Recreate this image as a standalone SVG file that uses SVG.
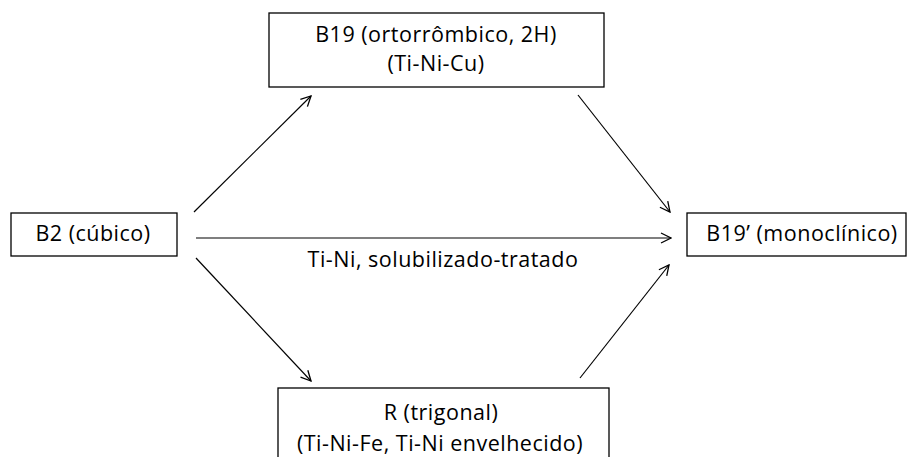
<svg xmlns="http://www.w3.org/2000/svg" width="910" height="457" viewBox="0 0 910 457">
<style>
.box{fill:#fff;stroke:#000;stroke-width:1.3}
.t{font-family:"Open Sans","Liberation Sans",Arial,sans-serif;font-size:21.5px;letter-spacing:0.5px;fill:#000;text-anchor:middle}
.c{stroke:#000;stroke-width:1.2;fill:none;marker-end:url(#ah)}
</style>
<defs>
<marker id="ah" viewBox="0 0 12 12" refX="11" refY="6" markerWidth="12" markerHeight="12" markerUnits="userSpaceOnUse" orient="auto">
<path d="M1,1 L11,6 L1,11" fill="none" stroke="#000" stroke-width="1.3"/>
</marker>
</defs>
<rect width="910" height="457" fill="#fff"/>
<g id="connectors">
<line class="c" x1="194" y1="212" x2="311" y2="96"/>
<line class="c" x1="578" y1="95" x2="670" y2="212"/>
<line class="c" x1="196" y1="238" x2="671" y2="238"/>
<line class="c" x1="196" y1="258" x2="311" y2="381"/>
<line class="c" x1="580" y1="378" x2="669" y2="265"/>
<text class="t" x="443" y="267">Ti-Ni, solubilizado-tratado</text>
</g>
<g id="b19">
<rect class="box" x="269" y="13" width="335" height="74"/>
<text class="t" x="436" y="42">B19 (ortorrômbico, 2H)</text>
<text class="t" x="436" y="71">(Ti-Ni-Cu)</text>
</g>
<g id="b2">
<rect class="box" x="11" y="213" width="166" height="43"/>
<text class="t" x="93" y="241">B2 (cúbico)</text>
</g>
<g id="b19p">
<rect class="box" x="687" y="213" width="219" height="43"/>
<text class="t" x="802" y="241">B19’ (monoclínico)</text>
</g>
<g id="r">
<rect class="box" x="278" y="388" width="331" height="80"/>
<text class="t" x="441" y="420">R (trigonal)</text>
<text class="t" x="440" y="451">(Ti-Ni-Fe, Ti-Ni envelhecido)</text>
</g>
</svg>
